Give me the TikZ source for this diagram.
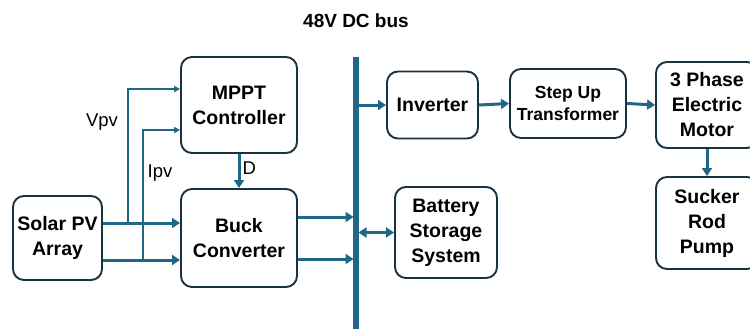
\documentclass[tikz,border=0pt]{standalone}
\usepackage{fontspec}
\setmainfont{Liberation Sans}
\usepackage{xcolor}
\usetikzlibrary{arrows.meta,positioning,calc}

\definecolor{busblue}{HTML}{1E6787}
\definecolor{boxline}{HTML}{1A3140}

\begin{document}
\begin{tikzpicture}[x=1pt, y=-1pt,
  block/.style={rectangle, draw=boxline, rounded corners=11pt, line width=1.9pt, align=center,
    font=\fontsize{19.5}{25}\selectfont\bfseries, inner sep=1pt},
  power/.style={line width=3pt, draw=busblue, -{Triangle[length=8pt, width=10pt]}},
  signal/.style={line width=1.5pt, draw=busblue, -{Triangle[length=6pt, width=6pt]}},
  lbl/.style={font=\fontsize{18.5}{20}\selectfont}
]
\useasboundingbox (0,0) rectangle (750,329);

% Left side
\node[block, minimum width=89pt, minimum height=84pt] (pv) at (57.5,238) {Solar PV\\Array};
\node[block, minimum width=116pt, minimum height=96pt] (mppt) at (239,105) {MPPT\\Controller};
\node[block, minimum width=116pt, minimum height=98pt] (buck) at (239,238) {Buck\\Converter};

% DC bus
\coordinate (bustop) at (356,57);
\coordinate (busbot) at (356,329);
\draw[line width=5.5pt, draw=busblue] (bustop) -- (busbot);
\node[font=\fontsize{19}{22}\selectfont\bfseries] (title) at (356,21) {48V DC bus};

% Right side
\node[block, minimum width=91pt, minimum height=67pt] (inv) at (432.5,105) {Inverter};
\node[block, minimum width=116pt, minimum height=69pt, font=\fontsize{17.5}{22}\selectfont\bfseries] (xfmr) at (568,103.5) {Step Up\\Transformer};
\node[block, minimum width=102pt, minimum height=86pt] (motor) at (707,105) {3 Phase\\Electric\\Motor};
\node[block, minimum width=102pt, minimum height=92pt] (pump) at (707,223) {Sucker\\Rod\\Pump};
\node[block, minimum width=102pt, minimum height=91pt] (bat) at (446,232.5) {Battery\\Storage\\System};

% PV to buck
\coordinate (pv1) at ([yshift=15pt]pv.east);
\coordinate (pv2) at ([yshift=-22pt]pv.east);
\draw[power] (pv1) -- (pv1 -| buck.west);
\draw[power] (pv2) -- (pv2 -| buck.west);

% Sensing
\coordinate (vtap) at ([xshift=25pt]pv1);
\coordinate (itap) at ([xshift=40pt]pv2);
\draw[signal] (vtap) |- ([yshift=16pt]mppt.west);
\draw[signal] (itap) |- ([yshift=-25pt]mppt.west);
\node[lbl] (vpv) at (102,122) {Vpv};
\node[lbl] (ipv) at (160,173) {Ipv};

% Duty cycle
\draw[power] (mppt.south) -- (buck.north);
\node[lbl, right] (duty) at (239,168) {D};

% Buck to bus
\coordinate (out1) at ([yshift=21pt]buck.east);
\coordinate (out2) at ([yshift=-21pt]buck.east);
\draw[power, shorten >=2.5pt] (out1) -- (out1 -| bustop);
\draw[power, shorten >=2.5pt] (out2) -- (out2 -| bustop);

% Bus to loads
\draw[power, shorten <=2.5pt] (bustop |- inv.west) -- (inv.west);
\draw[power, line width=2.4pt, shorten <=2.5pt, {Triangle[length=8pt, width=10pt]}-{Triangle[length=8pt, width=10pt]}] (bustop |- bat.west) -- (bat.west);
\draw[power] (inv.east) -- (xfmr.west);
\draw[power] (xfmr.east) -- (motor.west);
\draw[power] (motor.south) -- (pump.north);

\end{tikzpicture}
\end{document}
